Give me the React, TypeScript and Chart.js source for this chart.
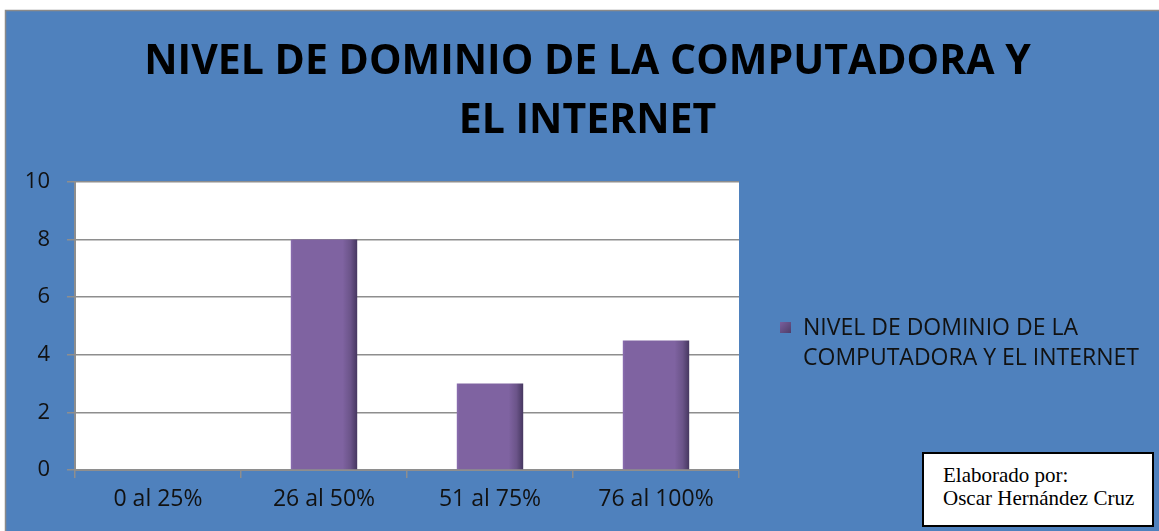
import React, { useEffect, useRef } from "react";
import { Chart, registerables } from "chart.js";

Chart.register(...registerables);

const categories = ["0 al 25%", "26 al 50%", "51 al 75%", "76 al 100%"];
const values = [0, 8, 3, 4.5];
const yMin = 0;
const yMax = 10;
const yStep = 2;
const seriesName = "NIVEL DE DOMINIO DE LA COMPUTADORA Y EL INTERNET";
const titleLines = ["NIVEL DE DOMINIO DE LA COMPUTADORA Y", "EL INTERNET"];
const legendLines = ["NIVEL DE DOMINIO DE LA", "COMPUTADORA Y EL INTERNET"];
const creditLines = ["Elaborado por:", "Oscar Hernández Cruz"];

const W = 1159;
const H = 531;
const PANEL_BLUE = "#4f81bd";
const GRID = "#8e8e8e";
const BAR = "#8064a2";
const FONT = "'Open Sans', sans-serif";

const backgroundPlugin = {
  id: "bgPanel",
  beforeDraw(chart: any) {
    const { ctx, chartArea } = chart;
    ctx.save();
    ctx.fillStyle = "#ffffff";
    ctx.fillRect(0, 0, W, H);
    ctx.fillStyle = PANEL_BLUE;
    ctx.fillRect(5, 10, W - 5, H - 10);
    ctx.strokeStyle = "#8a8a8a";
    ctx.lineWidth = 1.5;
    ctx.beginPath();
    ctx.moveTo(5.5, H);
    ctx.lineTo(5.5, 10.5);
    ctx.lineTo(W, 10.5);
    ctx.stroke();
    ctx.fillStyle = "#ffffff";
    ctx.fillRect(chartArea.left, chartArea.top, chartArea.right - chartArea.left, chartArea.bottom - chartArea.top);
    ctx.restore();
  },
};

const legendPlugin = {
  id: "customLegend",
  afterDraw(chart: any) {
    const { ctx } = chart;
    ctx.save();
    const g = ctx.createLinearGradient(780, 322, 791, 333);
    g.addColorStop(0, "#7a5f9c");
    g.addColorStop(1, "#4e3d68");
    ctx.fillStyle = g;
    ctx.fillRect(780, 322, 11, 11);
    ctx.fillStyle = "#111111";
    ctx.font = `23px ${FONT}`;
    ctx.textBaseline = "middle";
    ctx.textAlign = "left";
    legendLines.forEach((line, i) => {
      ctx.fillText(line, 803, 328 + i * 30);
    });
    ctx.restore();
  },
};

export default function App() {
  const canvasRef = useRef<HTMLCanvasElement | null>(null);

  useEffect(() => {
    document.body.style.margin = "0";
    const canvas = canvasRef.current;
    if (!canvas) return;
    const chart = new Chart(canvas, {
      type: "bar",
      data: {
        labels: categories,
        datasets: [
          {
            label: seriesName,
            data: values,
            barPercentage: 0.4,
            categoryPercentage: 1,
            backgroundColor: (c: any) => {
              const ch = c.chart;
              const area = ch.chartArea;
              const xs = ch.scales && ch.scales.x;
              if (!area || !xs) return BAR;
              const cx = xs.getPixelForValue(c.dataIndex);
              const half = ((area.right - area.left) / categories.length) * 0.4 / 2;
              const g = ch.ctx.createLinearGradient(cx - half, 0, cx + half, 0);
              g.addColorStop(0, "#8a6db0");
              g.addColorStop(0.04, "#7f63a1");
              g.addColorStop(0.78, "#7f63a1");
              g.addColorStop(0.9, "#6b5489");
              g.addColorStop(1, "#463760");
              return g;
            },
            borderWidth: 0,
          },
        ],
      },
      options: {
        animation: false,
        responsive: false,
        maintainAspectRatio: false,
        layout: { padding: { left: 16, right: 0, top: 0, bottom: 0 } },
        plugins: {
          legend: { display: false },
          tooltip: { enabled: false },
          title: {
            display: true,
            text: titleLines,
            color: "#000000",
            font: { family: FONT, size: 41, weight: "bold", lineHeight: 1.45 },
            padding: { top: 32.3, bottom: 30.8 },
          },
        },
        scales: {
          x: {
            grid: {
              display: true,
              drawOnChartArea: false,
              drawTicks: true,
              tickLength: 8,
              color: GRID,
              lineWidth: 1.5,
              offset: true,
            },
            border: { display: true, color: GRID, width: 2 },
            ticks: {
              color: "#111111",
              font: { family: FONT, size: 23 },
              padding: 8,
              maxRotation: 0,
            },
            afterFit: (s: any) => {
              s.height = H - 470;
            },
          },
          y: {
            min: yMin,
            max: yMax,
            grid: {
              color: GRID,
              lineWidth: 1.5,
              tickLength: 8,
              drawTicks: true,
            },
            border: { display: true, color: GRID, width: 2 },
            ticks: {
              stepSize: yStep,
              color: "#111111",
              font: { family: FONT, size: 22 },
              padding: 17,
            },
            afterFit: (s: any) => {
              s.width = 75 - 16;
            },
          },
          spacer: {
            type: "linear",
            position: "right",
            display: true,
            grid: { display: false, drawTicks: false },
            border: { display: false },
            ticks: { display: false },
            afterFit: (s: any) => {
              s.width = W - 739;
            },
          },
        },
      },
      plugins: [backgroundPlugin, legendPlugin],
    });
    return () => chart.destroy();
  }, []);

  return (
    <div style={{ position: "fixed", left: 0, top: 0, width: W, height: H, background: "#fff" }}>
      <canvas ref={canvasRef} width={W} height={H} style={{ width: W, height: H, display: "block" }} />
      <div
        style={{
          position: "absolute",
          left: 922,
          top: 452,
          width: 228,
          height: 71,
          border: "2px solid #000",
          background: "#fff",
          fontFamily: "'Liberation Serif', 'Times New Roman', serif",
          fontSize: 21,
          lineHeight: "23px",
          color: "#000",
          boxSizing: "content-box",
        }}
      >
        <div style={{ paddingLeft: 19, paddingTop: 10 }}>
          {creditLines.map((l) => (
            <div key={l} style={{ whiteSpace: "nowrap" }}>{l}</div>
          ))}
        </div>
      </div>
    </div>
  );
}
